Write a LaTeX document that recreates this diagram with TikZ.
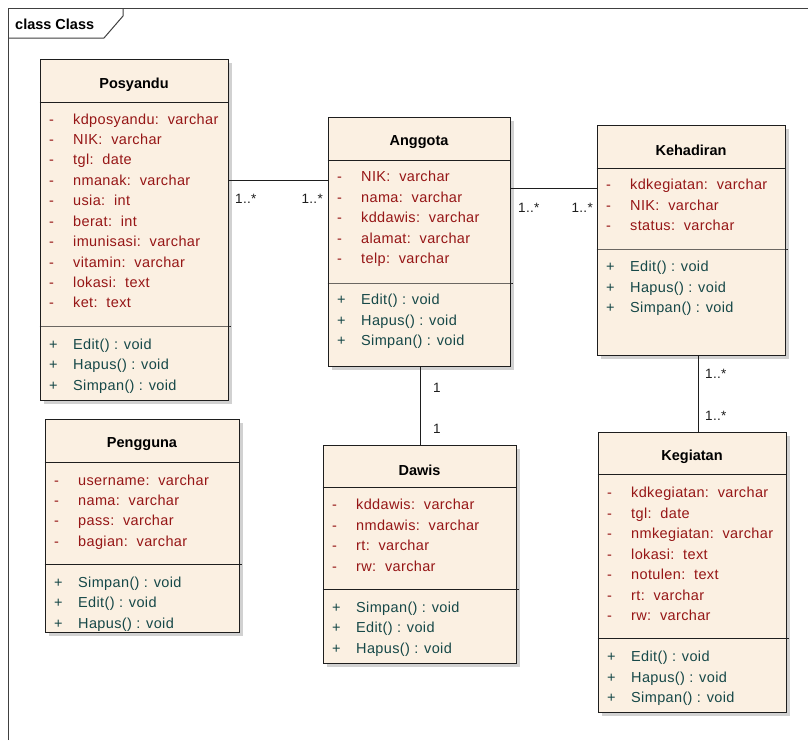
\documentclass[tikz,border=0pt]{standalone}
\usepackage{fontspec}
\setmainfont{Liberation Sans}
\newfontfamily\regfont[LetterSpace=2.5]{Liberation Sans}
\usetikzlibrary{shadows,fit}
\definecolor{boxfill}{RGB}{251,240,226}
\definecolor{attrcol}{RGB}{150,22,22}
\definecolor{methcol}{RGB}{22,72,72}
\definecolor{linecol}{RGB}{30,30,30}

\newcommand\umlclass[8]{%
  \node[classbox, fit={(#3,#4) (#5,#6)}] (#1) {};
  \node[titletxt] (#1-title) at ({(#3+#5)/2},{(#4+#7)/2+4}) {#2};
  \draw[divline] (#1.west |- 0,#7) -- (#1.east |- 0,#7);
  \draw[divline] (#1.west |- 0,#8) -- (#1.east |- 0,#8) -- ++(2,0);
}
\newcommand\umlattrs[3]{%
  \foreach \yy/\txt [count=\i] in {#3} {
    \node[attrtxt] (#1-av\i) at (#2+9,\yy+5) {-};
    \node[attrtxt] (#1-a\i) at (#2+33,\yy+5) {\txt};
  }%
}
\newcommand\umlmeths[3]{%
  \foreach \yy/\txt [count=\i] in {#3} {
    \node[methtxt] (#1-mv\i) at (#2+9,\yy+5) {+};
    \node[methtxt] (#1-m\i) at (#2+33,\yy+5) {\txt};
  }%
}

\begin{document}
\begin{tikzpicture}[x=1pt,y=-1pt,
  classbox/.style={draw=linecol, line width=1pt, fill=boxfill, inner sep=0pt,
    drop shadow={shadow xshift=4pt, shadow yshift=-4pt, fill=black!18, opacity=1}},
  divline/.style={draw=linecol, line width=1pt},
  titletxt/.style={font=\fontsize{14.5}{17}\selectfont\bfseries, text=black, inner sep=0pt},
  attrtxt/.style={font=\fontsize{14.5}{17}\regfont, text=attrcol, anchor=base west, inner sep=0pt},
  methtxt/.style={font=\fontsize{14.5}{17}\regfont, text=methcol, anchor=base west, inner sep=0pt},
  multtxt/.style={font=\fontsize{13.5}{16}\regfont, text=linecol, inner sep=0pt},
  conn/.style={draw=linecol, line width=1pt},
  frameline/.style={draw=black!75, line width=1pt}]

\useasboundingbox (0,0) rectangle (808,740);
\fill[white] (0,0) rectangle (808,740);

% frame
\draw[frameline] (8,740) -- (8,8) -- (808,8);
\draw[frameline] (123,8) -- (123,16) -- (104,38) -- (8,38);
\node[font=\fontsize{14.5}{17}\selectfont\bfseries, anchor=base west, inner sep=0pt] (frametitle) at (15,29) {class Class};

% Posyandu
\umlclass{posyandu}{Posyandu}{40}{59}{228}{400}{102}{326}
\umlattrs{posyandu}{40}{119/{kdposyandu:\ \ varchar},139/{NIK:\ \ varchar},159/{tgl:\ \ date},180/{nmanak:\ \ varchar},200/{usia:\ \ int},221/{berat:\ \ int},241/{imunisasi:\ \ varchar},262/{vitamin:\ \ varchar},282/{lokasi:\ \ text},302/{ket:\ \ text}}
\umlmeths{posyandu}{40}{344/{Edit() : void},364/{Hapus() : void},385/{Simpan() : void}}

% Anggota
\umlclass{anggota}{Anggota}{328}{117}{510}{366}{160}{283}
\umlattrs{anggota}{328}{176/{NIK:\ \ varchar},197/{nama:\ \ varchar},217/{kddawis:\ \ varchar},238/{alamat:\ \ varchar},258/{telp:\ \ varchar}}
\umlmeths{anggota}{328}{299/{Edit() : void},320/{Hapus() : void},340/{Simpan() : void}}

% Kehadiran
\umlclass{kehadiran}{Kehadiran}{597}{125}{785}{355}{168}{249}
\umlattrs{kehadiran}{597}{184/{kdkegiatan:\ \ varchar},205/{NIK:\ \ varchar},225/{status:\ \ varchar}}
\umlmeths{kehadiran}{597}{266/{Edit() : void},287/{Hapus() : void},307/{Simpan() : void}}

% Kegiatan
\umlclass{kegiatan}{Kegiatan}{598}{432}{786}{712}{474}{638}
\umlattrs{kegiatan}{598}{492/{kdkegiatan:\ \ varchar},513/{tgl:\ \ date},533/{nmkegiatan:\ \ varchar},554/{lokasi:\ \ text},574/{notulen:\ \ text},595/{rt:\ \ varchar},615/{rw:\ \ varchar}}
\umlmeths{kegiatan}{598}{656/{Edit() : void},677/{Hapus() : void},697/{Simpan() : void}}

% Dawis
\umlclass{dawis}{Dawis}{323}{445}{516}{663}{487}{589}
\umlattrs{dawis}{323}{504/{kddawis:\ \ varchar},525/{nmdawis:\ \ varchar},545/{rt:\ \ varchar},566/{rw:\ \ varchar}}
\umlmeths{dawis}{323}{607/{Simpan() : void},627/{Edit() : void},648/{Hapus() : void}}

% Pengguna
\umlclass{pengguna}{Pengguna}{45}{419}{239}{632}{462}{564}
\umlattrs{pengguna}{45}{480/{username:\ \ varchar},500/{nama:\ \ varchar},520/{pass:\ \ varchar},541/{bagian:\ \ varchar}}
\umlmeths{pengguna}{45}{582/{Simpan() : void},602/{Edit() : void},623/{Hapus() : void}}

% connectors
\draw[conn] (posyandu.east |- 0,180) -- (anggota.west |- 0,180);
\draw[conn] (anggota.east |- 0,188) -- (kehadiran.west |- 0,188);
\draw[conn] (anggota.south -| 420,0) -- (dawis.north -| 420,0);
\draw[conn] (kehadiran.south -| 698,0) -- (kegiatan.north -| 698,0);

% multiplicities
\node[multtxt, anchor=base west] (m1) at (235,203) {1..*};
\node[multtxt, anchor=base east] (m2) at (323,203) {1..*};
\node[multtxt, anchor=base west] (m3) at (518,212) {1..*};
\node[multtxt, anchor=base east] (m4) at (593,212) {1..*};
\node[multtxt, anchor=base west] (m5) at (433,392) {1};
\node[multtxt, anchor=base west] (m6) at (433,433) {1};
\node[multtxt, anchor=base west] (m7) at (705,378) {1..*};
\node[multtxt, anchor=base west] (m8) at (705,420) {1..*};
\end{tikzpicture}
\end{document}
